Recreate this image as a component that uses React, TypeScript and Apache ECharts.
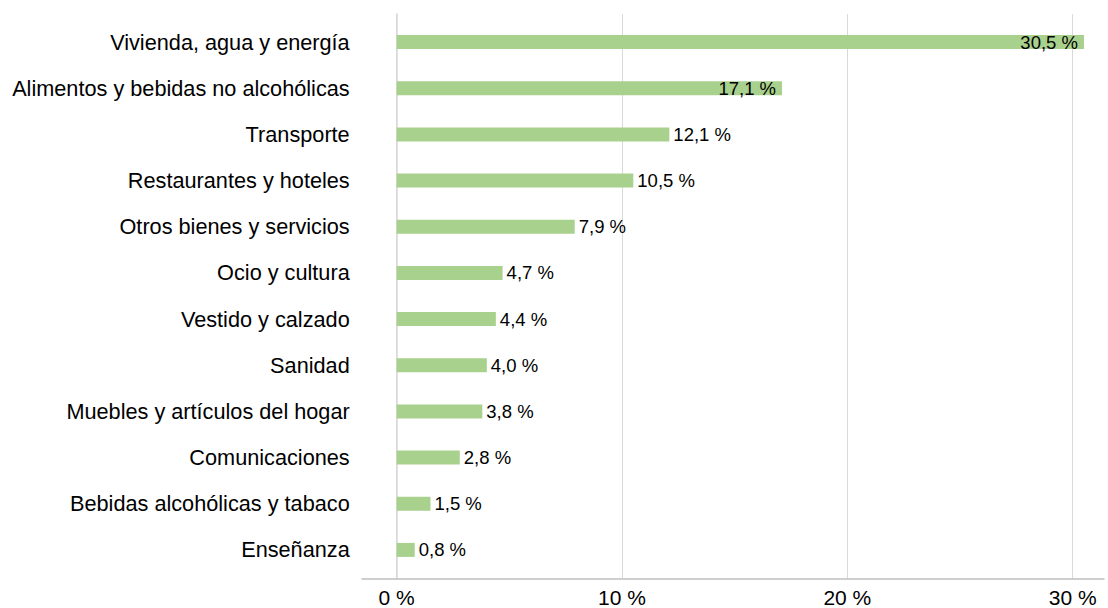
import React, { useEffect, useRef } from "react";
import * as echarts from "echarts";

const categories = [
  "Vivienda, agua y energía",
  "Alimentos y bebidas no alcohólicas",
  "Transporte",
  "Restaurantes y hoteles",
  "Otros bienes y servicios",
  "Ocio y cultura",
  "Vestido y calzado",
  "Sanidad",
  "Muebles y artículos del hogar",
  "Comunicaciones",
  "Bebidas alcohólicas y tabaco",
  "Enseñanza",
];
const values = [30.5, 17.1, 12.1, 10.5, 7.9, 4.7, 4.4, 4.0, 3.8, 2.8, 1.5, 0.8];
const xTicks = [0, 10, 20, 30];

const FONT = "Liberation Sans";

export default function App() {
  const ref = useRef<HTMLDivElement>(null);
  useEffect(() => {
    if (!ref.current) return;
    const chart = echarts.init(ref.current, undefined, { renderer: "svg" });
    const fmt = (v: number) => v.toFixed(1).replace(".", ",") + " %";
    const data = values.map((v) => ({
      value: v,
      label:
        v > 15
          ? { position: "insideRight", distance: 6 }
          : { position: "right", distance: 4 },
    }));
    chart.setOption({
      animation: false,
      textStyle: { fontFamily: FONT },
      grid: [
        { left: 396.7, right: 35.3, top: 14, bottom: 29 },
        { left: 396.7, right: 35.3, top: 19, bottom: 35 },
        { left: 362, right: 4, top: 14, bottom: 29 },
      ],
      xAxis: [
        {
          gridIndex: 0,
          type: "value",
          min: xTicks[0],
          max: xTicks[xTicks.length - 1],
          interval: 10,
          axisLine: { show: false },
          axisTick: { show: false },
          splitLine: { show: true, lineStyle: { color: "#d9d9d9", width: 1 } },
          axisLabel: {
            formatter: "{value} %",
            fontSize: 21,
            color: "#000",
            fontFamily: FONT,
            margin: 8,
          },
        },
        {
          gridIndex: 1,
          type: "value",
          min: 0,
          max: 30,
          show: false,
        },
        {
          gridIndex: 2,
          type: "value",
          min: 0,
          max: 1,
          axisLine: { show: true, lineStyle: { color: "#bfbfbf", width: 1.5 } },
          axisTick: { show: false },
          axisLabel: { show: false },
          splitLine: { show: false },
        },
      ],
      yAxis: [
        {
          gridIndex: 0,
          type: "value",
          min: 0,
          max: 1,
          axisLine: { show: true, onZero: false, lineStyle: { color: "#d9d9d9", width: 1.5 } },
          axisTick: { show: false },
          axisLabel: { show: false },
          splitLine: { show: false },
        },
        {
          gridIndex: 1,
          type: "category",
          data: categories,
          inverse: true,
          axisLine: { show: false },
          axisTick: { show: false },
          axisLabel: {
            fontSize: 21.7,
            color: "#000",
            fontFamily: FONT,
            margin: 47,
          },
        },
        {
          gridIndex: 2,
          type: "value",
          show: false,
        },
      ],
      series: [
        {
          type: "bar",
          xAxisIndex: 1,
          yAxisIndex: 1,
          data,
          barWidth: 14,
          clip: false,
          itemStyle: { color: "#a9d18e" },
          label: {
            show: true,
            formatter: (p: any) => fmt(p.value),
            fontSize: 18.5,
            color: "#000",
            fontFamily: FONT,
          },
        },
      ],
    });
    return () => chart.dispose();
  }, []);
  return (
    <div
      ref={ref}
      style={{ position: "fixed", left: 0, top: 0, width: 1108, height: 608, background: "#fff" }}
    />
  );
}
